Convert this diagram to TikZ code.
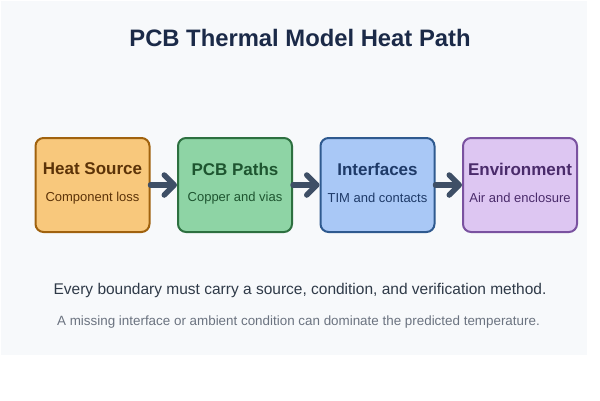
\documentclass[tikz,border=0pt]{standalone}
\usepackage{fontspec}
\setmainfont{Liberation Sans}
\usetikzlibrary{arrows.meta}
\definecolor{panel}{HTML}{F7F9FB}
\definecolor{titlec}{HTML}{1B2A48}
\definecolor{arrowc}{HTML}{3E4F66}
\definecolor{hsfill}{HTML}{F8C87C}\definecolor{hsdraw}{HTML}{A0620E}\definecolor{hstext}{HTML}{5C3308}
\definecolor{pcfill}{HTML}{8ED4A5}\definecolor{pcdraw}{HTML}{2D7040}\definecolor{pctext}{HTML}{1E5530}
\definecolor{iffill}{HTML}{A9C8F6}\definecolor{ifdraw}{HTML}{2F5A8F}\definecolor{iftext}{HTML}{1E3A68}
\definecolor{enfill}{HTML}{DDC6F2}\definecolor{endraw}{HTML}{7A52A0}\definecolor{entext}{HTML}{4A2B6B}
\definecolor{line1c}{HTML}{2F3A48}
\definecolor{line2c}{HTML}{6B7380}
\tikzset{
  x=1pt,y=-1pt,
  stagebox/.style={draw, line width=2pt, rounded corners=8pt, minimum width=114pt, minimum height=94pt, inner sep=0pt},
  boxtitle/.style={font=\bfseries\fontsize{17}{20}\selectfont},
  boxsub/.style={font=\fontsize{13}{15}\selectfont},
  flow/.style={draw=arrowc, line width=5.5pt, line cap=round, -{Straight Barb[length=10pt,width=20pt,line cap=round,line join=round]}},
}
\begin{document}
\begin{tikzpicture}
\useasboundingbox (0,0) rectangle (600,400);
\fill[white] (0,0) rectangle (600,400);
\fill[panel] (1,1) rectangle (587,355);
\node[font=\bfseries\fontsize{23.8}{28}\selectfont, text=titlec] (title) at (300,38) {PCB Thermal Model Heat Path};

\node[stagebox, fill=hsfill, draw=hsdraw] (hs) at (92.5,185) {};
\node[stagebox, fill=pcfill, draw=pcdraw] (pc) at (235,185) {};
\node[stagebox, fill=iffill, draw=ifdraw] (if) at (377.5,185) {};
\node[stagebox, fill=enfill, draw=endraw] (en) at (520,185) {};

\node[boxtitle, text=hstext] (hst) at (92.5,169) {Heat Source};
\node[boxsub, text=hstext] (hss) at (92.5,198) {Component loss};
\node[boxtitle, text=pctext] (pct) at (235,169) {PCB Paths};
\node[boxsub, text=pctext] (pcs) at (235,198) {Copper and vias};
\node[boxtitle, text=iftext] (ift) at (377.5,169) {Interfaces};
\node[boxsub, text=iftext] (ifs) at (377.5,198) {TIM and contacts};
\node[boxtitle, text=entext] (ent) at (520,169) {Environment};
\node[boxsub, text=entext] (ens) at (520,198) {Air and enclosure};

\draw[flow] (hs.east) -- (pc.west);
\draw[flow] (pc.east) -- (if.west);
\draw[flow] (if.east) -- (en.west);

\node[font=\fontsize{15.5}{18}\selectfont, text=line1c] (l1) at (300,290) {Every boundary must carry a source, condition, and verification method.};
\node[font=\fontsize{13.4}{16}\selectfont, text=line2c] (l2) at (298.5,322) {A missing interface or ambient condition can dominate the predicted temperature.};
\end{tikzpicture}
\end{document}
